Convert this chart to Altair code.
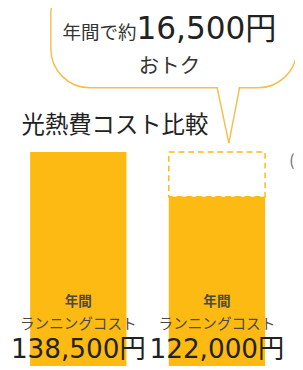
import altair as alt
import pandas as pd

# ---- data ----
categories = ["A", "B"]
costs = [138500, 122000]
labels_top = ["年間", "年間"]
labels_mid = ["ランニングコスト", "ランニングコスト"]
title_text = "光熱費コスト比較"
bubble_small = "年間で約"
bubble_big = "16,500円"
bubble_line2 = "おトク"
side_note = "("

BAR = "#FDBA12"
BUB = "#F2C04E"
JP = "Noto Sans CJK JP"
NUM = "DejaVu Sans, Noto Sans CJK JP"
W, H = 295, 358

df = pd.DataFrame({
    "cat": categories,
    "cost": costs,
    "top": labels_top,
    "mid": labels_mid,
    "vlabel": [f"{c:,}円" for c in costs],
})
df_save = pd.DataFrame({"cat": [categories[1]], "hi": [costs[0]], "lo": [costs[1]]})
one = pd.DataFrame({"k": [0]})

x_enc = alt.X("cat:N", scale=alt.Scale(range=[1, 286], paddingInner=0, paddingOuter=0), axis=None)
y_scale = alt.Scale(domain=[61380, 189800])

base = alt.Chart(df)

dashed = alt.Chart(df_save).mark_bar(size=99, fillOpacity=0, stroke=BAR, strokeWidth=1.5,
                                     strokeDash=[6, 4]).encode(
    x=x_enc, y=alt.Y("hi:Q", scale=y_scale, axis=None), y2="lo:Q")

bars = base.mark_bar(size=99, color=BAR).encode(
    x=x_enc, y=alt.Y("cost:Q", scale=y_scale, axis=None), y2=alt.value(H))

t_top = base.mark_text(font=JP, fontSize=14, fontWeight="bold", color="#4a4a4a").encode(
    x=x_enc, y=alt.value(297), text="top:N")
t_mid = base.mark_text(font=JP, fontSize=15, color="#4a4a4a").encode(
    x=x_enc, y=alt.value(320), text="mid:N")
t_val = base.mark_text(font=NUM, fontSize=27, color="#222", baseline="alphabetic").encode(
    x=x_enc, y=alt.value(355), text="vlabel:N")

oc = alt.Chart(one)
bubble = oc.mark_rect(fillOpacity=0, stroke=BUB, strokeWidth=1.5, cornerRadius=40).encode(
    x=alt.value(44), x2=alt.value(297), y=alt.value(-38), y2=alt.value(77))
cover = oc.mark_rule(color="white", strokeWidth=3).encode(
    x=alt.value(216), x2=alt.value(237), y=alt.value(77))
tail1 = oc.mark_rule(color=BUB, strokeWidth=1.5).encode(
    x=alt.value(215), x2=alt.value(227), y=alt.value(77), y2=alt.value(134))
tail2 = oc.mark_rule(color=BUB, strokeWidth=1.5).encode(
    x=alt.value(238), x2=alt.value(227), y=alt.value(77), y2=alt.value(134))

b_small = oc.mark_text(font=JP, fontSize=19, color="#333", align="right", baseline="alphabetic",
                       text=bubble_small).encode(x=alt.value(132), y=alt.value(27))
b_big = oc.mark_text(font=NUM, fontSize=32, color="#222", align="left", baseline="alphabetic",
                     text=bubble_big).encode(x=alt.value(132), y=alt.value(27))
b_l2 = oc.mark_text(font=JP, fontSize=21, color="#333", align="center", baseline="middle",
                    text=bubble_line2).encode(x=alt.value(166), y=alt.value(56))
title = oc.mark_text(font=JP, fontSize=24, color="#222", align="left", baseline="middle",
                     text=title_text).encode(x=alt.value(14), y=alt.value(117))
note = oc.mark_text(font=JP, fontSize=16, color="#666", align="left", baseline="middle",
                    text=side_note).encode(x=alt.value(289), y=alt.value(152))

chart = alt.layer(
    bubble, cover, tail1, tail2, b_small, b_big, b_l2, title, note,
    dashed, bars, t_top, t_mid, t_val
).properties(
    width=W, height=H, autosize=alt.AutoSizeParams(type="none"), padding=0,
    background="white"
).configure_view(stroke=None)

chart.save("out.html", embed_options={"renderer": "svg", "actions": False})
